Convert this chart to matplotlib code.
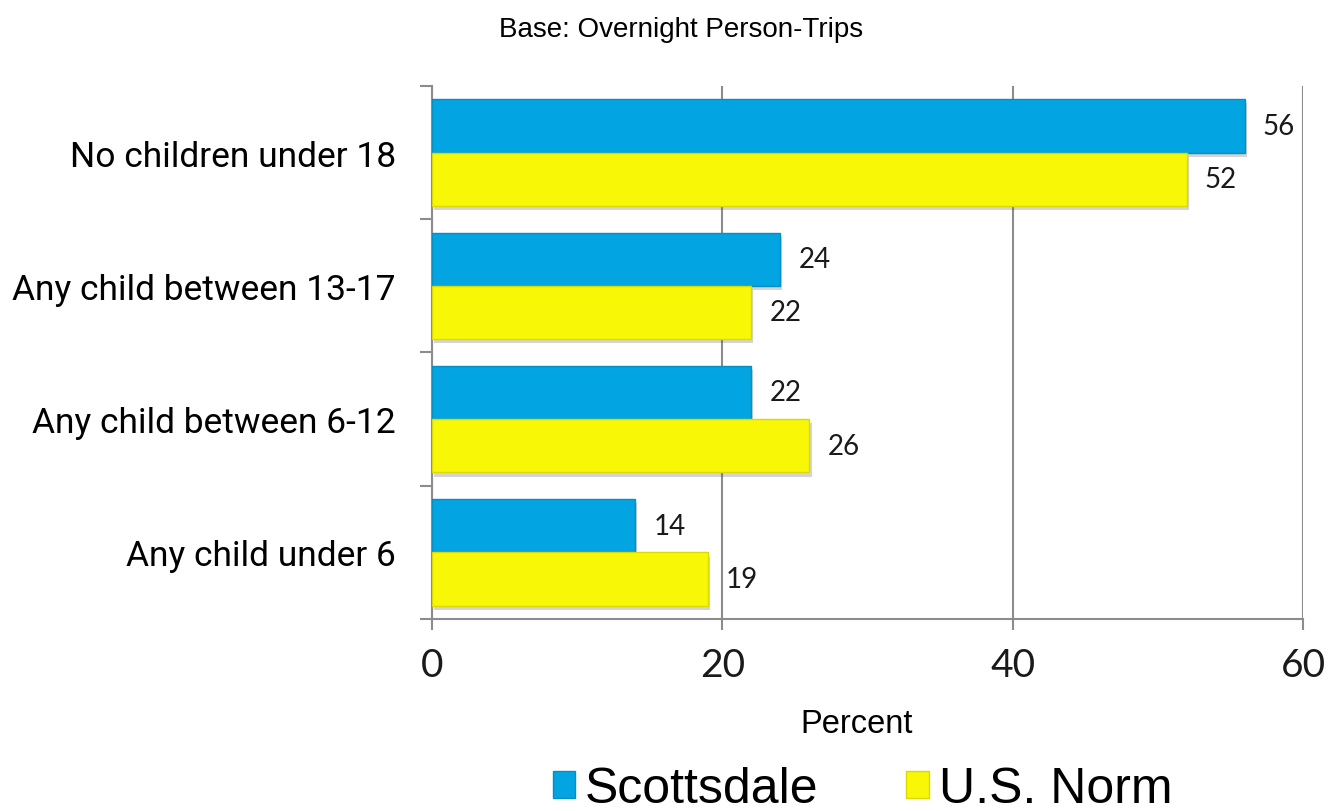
import matplotlib
matplotlib.use("Agg")
import matplotlib.pyplot as plt
import matplotlib.patheffects as pe
from matplotlib.patches import Patch
import numpy as np

categories = ["No children under 18", "Any child between 13-17",
              "Any child between 6-12", "Any child under 6"]
scottsdale = [56, 24, 22, 14]
us_norm = [52, 22, 26, 19]
series_names = ["Scottsdale", "U.S. Norm"]
x_ticks = [0, 20, 40, 60]

BLUE = "#02A5E1"
YELLOW = "#F8F806"
GRID = "#8C8C8C"

narrow = ["Roboto", "Liberation Sans", "DejaVu Sans"]
sans = ["Liberation Sans", "DejaVu Sans"]
geo = ["Lato", "DejaVu Sans"]

fig = plt.figure(figsize=(13.35, 8.12), dpi=100)
ax = fig.add_axes([0.3236, 0.2365, 0.6524, 0.6564])

y = np.arange(len(categories))
h = 0.4
shadow = [pe.SimplePatchShadow(offset=(1.5, -3), alpha=0.25, shadow_rgbFace="#555555"),
          pe.Normal()]

b1 = ax.barh(y - h / 2, scottsdale, height=h, color=BLUE, edgecolor="#0590C4",
             linewidth=1.0, zorder=3)
b2 = ax.barh(y + h / 2, us_norm, height=h, color=YELLOW, edgecolor="#DADA00",
             linewidth=1.0, zorder=3)
for b in list(b1) + list(b2):
    b.set_path_effects(shadow)

for bars, vals in ((b1, scottsdale), (b2, us_norm)):
    for b, v in zip(bars, vals):
        ax.annotate(f"{v}", xy=(v, b.get_y() + b.get_height() / 2),
                    xytext=(13, 0), textcoords="offset points",
                    ha="left", va="center", fontsize=20, family=geo,
                    color="#1a1a1a", zorder=4)

ax.set_xlim(0, 60)
ax.set_ylim(len(categories) - 0.5, -0.5)

ax.set_xticks(x_ticks)
ax.set_xticklabels([str(t) for t in x_ticks], family=geo, fontsize=28,
                   color="#1a1a1a")
ax.tick_params(axis="x", length=8, width=1.5, color=GRID, pad=12)

ax.set_yticks(y)
ax.set_yticklabels(categories, family=narrow, fontsize=25.5, color="#000000")
ax.tick_params(axis="y", which="major", length=0, pad=26)
ax.set_yticks(np.arange(len(categories) + 1) - 0.5, minor=True)
ax.tick_params(axis="y", which="minor", length=9, width=1.5, color=GRID)

ax.grid(axis="x", color=GRID, linewidth=1.5, zorder=0)
ax.set_axisbelow(True)
for s in ("top", "right"):
    ax.spines[s].set_visible(False)
for s in ("left", "bottom"):
    ax.spines[s].set_color(GRID)
    ax.spines[s].set_linewidth(1.5)

ax.set_xlabel("Percent", family=sans, fontsize=23.5, labelpad=18)
ax.xaxis.label.set_x(0.488)
fig.text(0.51, 0.963, "Base: Overnight Person-Trips", ha="center", va="center",
         family=sans, fontsize=20)

handles = [Patch(facecolor=BLUE, edgecolor="#0590C4"),
           Patch(facecolor=YELLOW, edgecolor="#DADA00")]
fig.legend(handles, series_names, loc="center", bbox_to_anchor=(0.646, 0.027),
           ncol=2, frameon=False, prop={"family": sans, "size": 36},
           handlelength=0.45, handleheight=0.45, handletextpad=0.2,
           columnspacing=1.75, borderpad=0)

fig.savefig("out.png", dpi=100)
